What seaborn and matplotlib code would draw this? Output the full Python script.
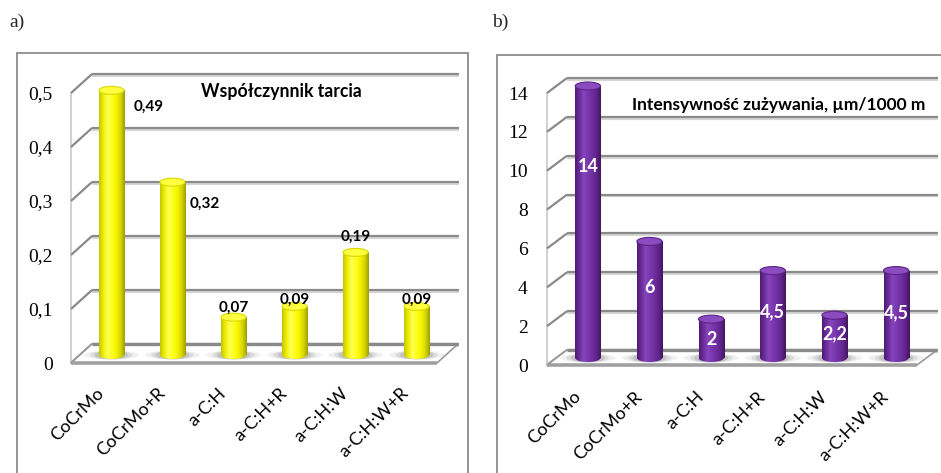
import numpy as np
import pandas as pd
import matplotlib
matplotlib.use("Agg")
import matplotlib.pyplot as plt
import seaborn as sns
from matplotlib.patches import Ellipse, Polygon, Rectangle
from matplotlib.colors import LinearSegmentedColormap
from matplotlib.transforms import ScaledTranslation

# ---- data -------------------------------------------------------------
categories = ["CoCrMo", "CoCrMo+R", "a-C:H", "a-C:H+R", "a-C:H:W", "a-C:H:W+R"]
friction = [0.49, 0.32, 0.07, 0.09, 0.19, 0.09]
wear = [14, 6, 2, 4.5, 2.2, 4.5]
friction_ticks = [0, 0.1, 0.2, 0.3, 0.4, 0.5]
wear_ticks = [0, 2, 4, 6, 8, 10, 12, 14]
friction_title = "Współczynnik tarcia"
wear_title = "Intensywność zużywania, µm/1000 m"
panel_letters = ["a)", "b)"]

# ---- figure -----------------------------------------------------------
W, H, DPI = 941, 473, 100
sns.set_theme(style="white")
plt.rcParams["font.family"] = ["Lato", "DejaVu Sans"]
fig = plt.figure(figsize=(W / DPI, H / DPI), dpi=DPI)
fig.patch.set_facecolor("white")

SERIF = ["Liberation Serif", "DejaVu Serif"]


def fmt(v):
    return f"{v:g}".replace(".", ",")


def add_px_axes(left, right, base, top):
    """Axes placed by pixel edges (y measured from the top of the figure)."""
    return fig.add_axes([left / W, (H - base) / H, (right - left) / W, (base - top) / H])


def draw_panel(ax, values, ticks, spec):
    n = len(categories)
    ymax = ticks[-1]
    df = pd.DataFrame({"material": categories, "value": values})
    sns.barplot(data=df, x="material", y="value", ax=ax, color=spec["base"],
                width=0.41, saturation=1, edgecolor="none", zorder=3)
    bars = list(ax.patches)
    x0, x1 = -0.5, n - 0.5
    ax.set_xlim(x0, x1)
    ax.set_ylim(0, ymax)

    # pixel -> data conversion for the pseudo-3D depth
    l, r, b, t = spec["box"]
    sx = n / (r - l)
    sy = ymax / (b - t)
    ddx = spec["depth"][0] * sx
    ddy = spec["depth"][1] * sy

    wall = dict(color="#8a8a8a", lw=1.6, solid_capstyle="butt", clip_on=False, zorder=1.2)
    wall_sh = dict(color="#d6d6d6", lw=1.6, solid_capstyle="butt", clip_on=False, zorder=1.1)
    sh = 1.8 * sy

    # side/back wall grid
    for tv in ticks:
        ax.plot([x0 + ddx, x1 + ddx + 0.02], [tv + ddy - sh, tv + ddy - sh], **wall_sh)
        ax.plot([x0 + ddx, x1 + ddx + 0.02], [tv + ddy, tv + ddy], **wall)
        ax.plot([x0, x0 + ddx], [tv, tv + ddy], **wall)
    ax.plot([x0, x0], [0, ymax], color="#c8c8c8", lw=1.2, clip_on=False, zorder=1.0)

    # floor slab
    floor = Polygon([(x0, 0), (x1, 0), (x1 + ddx, ddy), (x0 + ddx, ddy)], closed=True,
                    facecolor="white", edgecolor="#9a9a9a", lw=1.2, clip_on=False, zorder=1.5)
    ax.add_patch(floor)
    ax.plot([x0 + ddx, x1 + ddx], [ddy, ddy], color="#8a8a8a", lw=2.4, clip_on=False,
            zorder=1.6, solid_capstyle="butt")
    ax.plot([x0, x1], [0, 0], color="#a0a0a0", lw=2.6, clip_on=False, zorder=1.6,
            solid_capstyle="butt")

    # cylinders
    shift = ScaledTranslation(spec["shift"][0] / DPI, spec["shift"][1] / DPI, fig.dpi_scale_trans)
    trans = ax.transData + shift
    cmap = LinearSegmentedColormap.from_list("cyl", spec["profile"])
    grad = np.linspace(0, 1, 256).reshape(1, -1)
    cap = spec["cap"] * sy
    for bar, v in zip(bars, values):
        bar.set_transform(trans)
        bar.set_clip_on(False)
        xl, w = bar.get_x(), bar.get_width()
        xc = xl + w / 2
        # floor shadow
        for k, a in ((2.2, 0.10), (1.7, 0.16), (1.35, 0.22)):
            ax.add_patch(Ellipse((xc, 0), w * k, cap * 1.1, transform=trans,
                                 facecolor="#6e6e6e", edgecolor="none", alpha=a,
                                 zorder=2, clip_on=False))
        body = ax.imshow(grad, extent=(xl, xl + w, 0, v), aspect="auto", cmap=cmap,
                         interpolation="bilinear", zorder=3.1)
        body.set_transform(trans)
        body.set_clip_path(bar)
        bottom = Ellipse((xc, 0), w, cap, transform=trans, facecolor="none",
                         edgecolor="none", clip_on=False)
        ax.add_patch(bottom)
        foot = ax.imshow(grad, extent=(xl, xl + w, -cap / 2, cap / 2), aspect="auto",
                         cmap=cmap, interpolation="bilinear", zorder=3.1)
        foot.set_transform(trans)
        foot.set_clip_path(bottom)
        ax.add_patch(Ellipse((xc, v), w, cap, transform=trans, facecolor=spec["top"],
                             edgecolor=spec["rim"], lw=0.8, zorder=3.4, clip_on=False))

    ax.set_xlim(x0, x1)
    ax.set_ylim(0, ymax)

    # value labels
    for bar, v, off in zip(bars, values, spec["label_off"]):
        xc = bar.get_x() + bar.get_width() / 2
        ax.annotate(fmt(v), (xc, v), xycoords=trans, xytext=off, textcoords="offset pixels",
                    ha="center", va="center", fontsize=spec["lab_size"],
                    fontweight="bold", color=spec["lab_color"], zorder=5,
                    annotation_clip=False)

    # axes styling
    for s in ax.spines.values():
        s.set_visible(False)
    ax.set_facecolor("none")
    ax.grid(False)
    ax.set_xlabel("")
    ax.set_ylabel("")
    ax.set_yticks(ticks)
    ax.set_yticklabels([fmt(v) for v in ticks], family=SERIF, fontsize=14, color="black")
    ax.tick_params(axis="y", length=0, pad=spec["ypad"])
    ax.set_xticks(range(n))
    ax.set_xticklabels(categories, rotation=45, ha="right", va="center",
                       rotation_mode="anchor", fontsize=13, color="black")
    ax.tick_params(axis="x", length=0, pad=spec["xpad"])
    ax.text(spec["title_pos"][0], spec["title_pos"][1], spec["title"], transform=ax.transAxes,
            ha="center", va="center", fontsize=spec["title_size"], fontweight="bold",
            color="black", zorder=6)


yellow = dict(
    box=(71, 437, 363, 93), depth=(21, 19), shift=(10, 8), cap=8,
    base="#f5f500", top="#ffff40", rim="#d8d800",
    profile=["#c4c400", "#eeee00", "#ffff5a", "#ffff18", "#f4f400", "#d6d600", "#9c9c00"],
    label_off=[(37, -16), (32, -22), (0, 9), (0, 7), (0, 16), (0, 7)],
    lab_size=11, lab_color="black", ypad=13, xpad=20,
    title=friction_title, title_pos=(0.574, 1.004), title_size=12.7,
)
purple = dict(
    box=(547, 917, 365, 93), depth=(20, 15), shift=(10, 7), cap=8,
    base="#7030a0", top="#8a4cbf", rim="#5c2386",
    profile=["#4f1b72", "#6a2c98", "#8744bd", "#7a38ae", "#6e2e9f", "#5e248a", "#44155f"],
    label_off=[(0, -80), (0, -46), (0, -20), (0, -41), (0, -18), (0, -42)],
    lab_size=13, lab_color="white", ypad=14, xpad=21,
    title=wear_title, title_pos=(0.627, 0.956), title_size=12.5,
)

ax_a = add_px_axes(*yellow["box"])
draw_panel(ax_a, friction, friction_ticks, yellow)
ax_b = add_px_axes(*purple["box"])
draw_panel(ax_b, wear, wear_ticks, purple)

# panel frames and letters
frame = dict(facecolor="none", edgecolor="#8c8c8c", lw=1.3, transform=fig.transFigure,
             zorder=0)
fig.patches.append(Rectangle((17 / W, -0.01), (468 - 17) / W, (H - 53) / H + 0.01, **frame))
fig.patches.append(Rectangle((497 / W, -0.01), (W + 5 - 497) / W, (H - 55) / H + 0.01, **frame))
fig.text(9 / W, 1 - 22 / H, panel_letters[0], family=SERIF, fontsize=14, va="center", ha="left")
fig.text(492 / W, 1 - 22 / H, panel_letters[1], family=SERIF, fontsize=14, va="center", ha="left")

fig.savefig("out.png", dpi=DPI, facecolor="white")
